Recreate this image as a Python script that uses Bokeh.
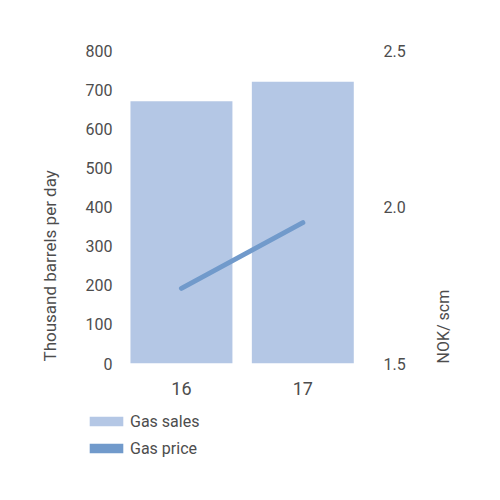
import math
from bokeh.plotting import figure
from bokeh.layouts import column
from bokeh.models import (ColumnDataSource, Range1d, LinearAxis, Title,
                          Legend, LegendItem, FixedTicker, CustomJSTickFormatter)
from bokeh.embed import file_html
from bokeh.resources import INLINE

years = ["16", "17"]
gas_sales = [670, 720]
gas_price = [1.74, 1.95]
left_ticks = [0, 100, 200, 300, 400, 500, 600, 700, 800]
right_ticks = [1.5, 2.0, 2.5]

BAR = "#b4c7e5"
LINE = "#719acb"
TXT = "#4d4d4d"
FONT = "Roboto"

pos = list(range(len(years)))
src = ColumnDataSource(dict(x=pos, year=years, sales=gas_sales, price=gas_price))

# ---------------- main chart ----------------
p = figure(frame_width=284, frame_height=313,
           output_backend="svg", toolbar_location=None,
           x_range=Range1d(-0.84, 1.5),
           y_range=Range1d(0, 800),
           min_border_left=79, min_border_right=137,
           min_border_top=50, min_border_bottom=45)
p.outline_line_color = None
p.grid.visible = False
p.background_fill_color = None
p.border_fill_color = "white"

p.extra_y_ranges = {"price": Range1d(1.5, 2.5)}

bars = p.vbar(x="x", top="sales", width=0.84, source=src,
              fill_color=BAR, line_color=None)
line = p.line(x="x", y="price", source=src, y_range_name="price",
              line_color=LINE, line_width=5, line_cap="round")

xa = p.xaxis[0]
xa.ticker = FixedTicker(ticks=pos)
xa.major_label_overrides = {i: y for i, y in zip(pos, years)}

yl = p.yaxis[0]
yl.ticker = FixedTicker(ticks=left_ticks)

yr = LinearAxis(y_range_name="price", ticker=FixedTicker(ticks=right_ticks))
yr.formatter = CustomJSTickFormatter(code="return tick.toFixed(1);")
yr.axis_label = "NOK/ scm"
yr.axis_label_orientation = math.pi / 2
p.add_layout(yr, "right")

for ax in [yl, yr, xa]:
    ax.axis_line_color = None
    ax.major_tick_line_color = None
    ax.minor_tick_line_color = None
    ax.major_tick_out = 0
    ax.major_tick_in = 0
    ax.minor_tick_out = 0
    ax.minor_tick_in = 0
    ax.major_label_text_font = FONT
    ax.major_label_text_font_size = "16px"
    ax.major_label_text_color = TXT
    ax.axis_label_text_font = FONT
    ax.axis_label_text_font_size = "16px"
    ax.axis_label_text_font_style = "normal"
    ax.axis_label_text_color = TXT

yl.major_label_standoff = -33
yr.major_label_standoff = 20
xa.major_label_standoff = 18
xa.major_label_text_font_size = "18px"
yr.axis_label_standoff = 35
if "axis_label_align" in LinearAxis.properties():
    yr.axis_label_align = "start"

left_title = Title(text="Thousand barrels per day", align="left",
                   vertical_align="bottom", standoff=40, offset=2,
                   text_font=FONT, text_font_size="17px",
                   text_font_style="normal", text_color=TXT)
p.add_layout(left_title, "left")

# ---------------- legend strip ----------------
lg = figure(frame_width=284, frame_height=92,
            output_backend="svg", toolbar_location=None,
            x_axis_type=None, y_axis_type=None,
            min_border_left=79, min_border_right=137,
            min_border_top=0, min_border_bottom=0)
lg.outline_line_color = None
lg.grid.visible = False
lg.border_fill_color = "white"
lg.background_fill_color = None
sw_sales = lg.vbar(x="x", top="sales", width=0.84, source=src,
                   fill_color=BAR, line_color=None, visible=False)
sw_price = lg.vbar(x="x", top="price", width=0.84, source=src,
                   fill_color=LINE, line_color=None, visible=False)

legend = Legend(items=[LegendItem(label="Gas sales", renderers=[sw_sales]),
                       LegendItem(label="Gas price", renderers=[sw_price])],
                location=(6, 42), orientation="vertical",
                glyph_width=42, glyph_height=12, label_height=20,
                label_standoff=3, spacing=7, padding=0, margin=0,
                border_line_color=None, background_fill_alpha=0,
                inactive_fill_alpha=0,
                label_text_font=FONT, label_text_font_size="16px",
                label_text_color=TXT)
lg.add_layout(legend, "center")

layout = column(p, lg, spacing=0)
open("out.html", "w").write(file_html(layout, INLINE))
